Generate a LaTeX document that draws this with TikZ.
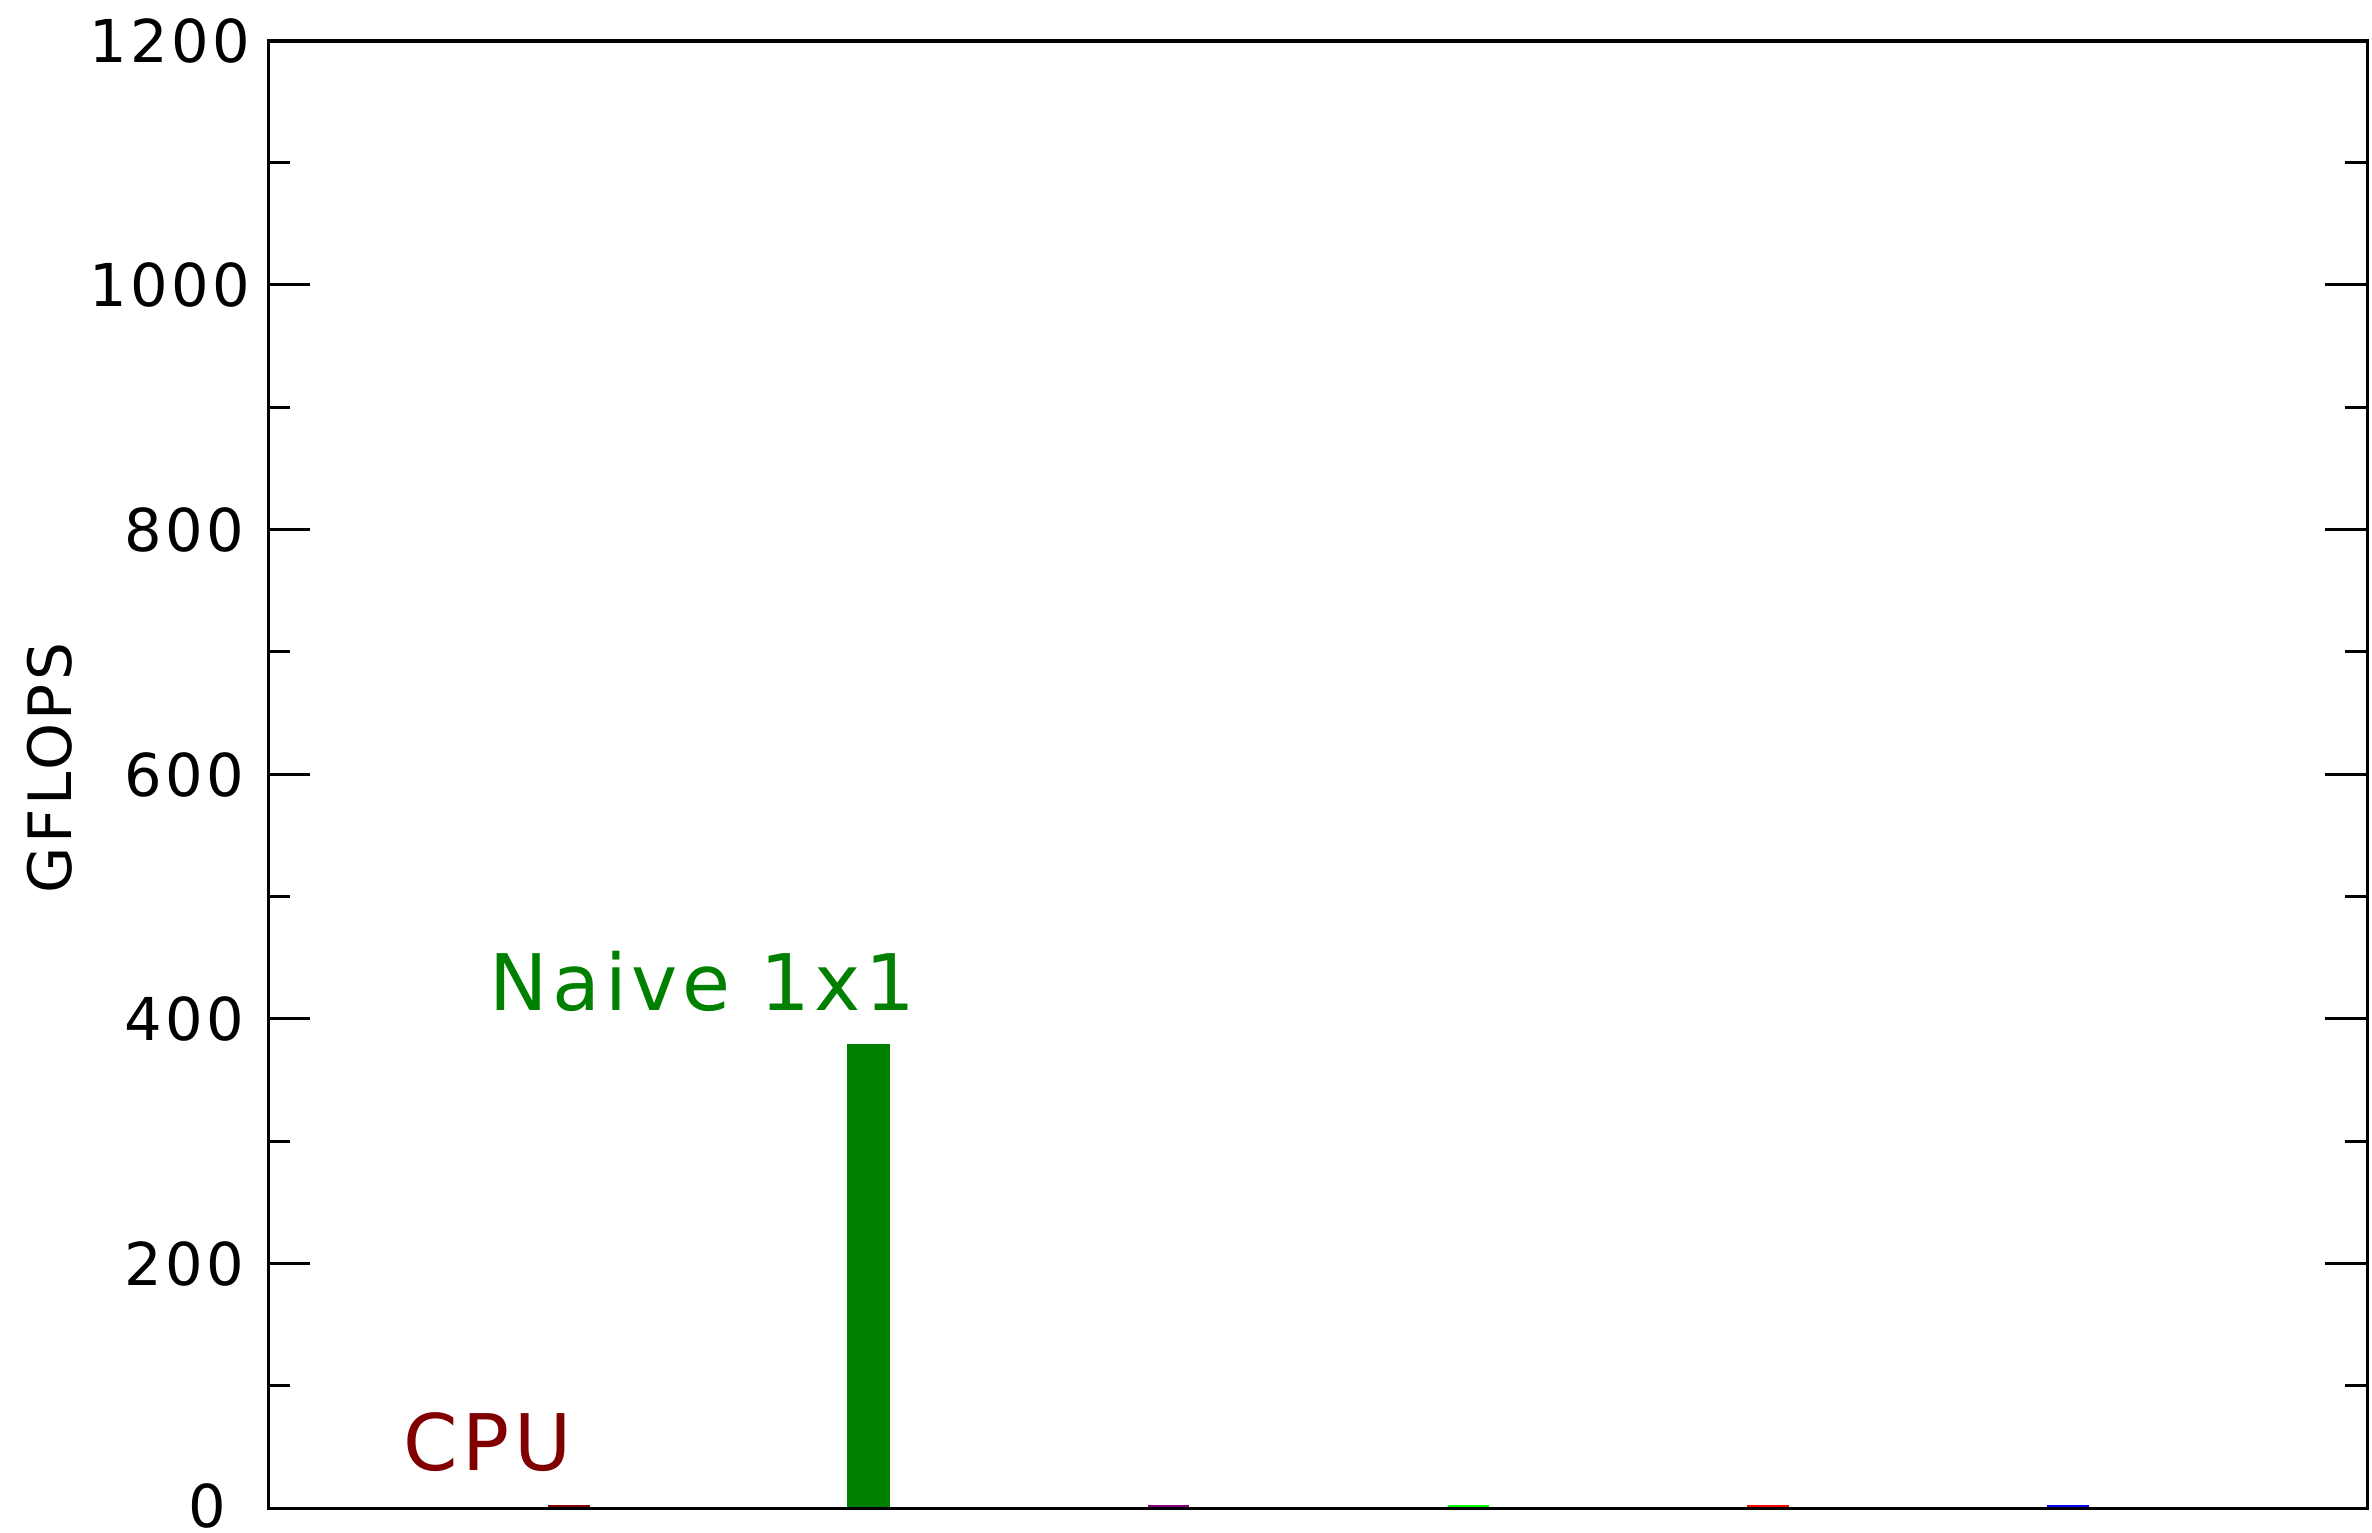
\documentclass[tikz,border=0pt]{standalone}
\usepackage{fontspec}
\newfontfamily\tickfont[LetterSpace=6]{DejaVu Sans}
\definecolor{cpured}{RGB}{128,0,0}
\definecolor{naivegreen}{RGB}{0,128,0}
\definecolor{barpurple}{RGB}{128,0,128}
\definecolor{barlime}{RGB}{0,255,0}
\definecolor{barred}{RGB}{255,0,0}
\definecolor{barblue}{RGB}{0,0,255}
\tikzset{
  ticklabel/.style={font=\tickfont\fontsize{16.8pt}{18pt}\selectfont, inner sep=0pt, anchor=base east},
  barlabel/.style={font=\tickfont\fontsize{22.2pt}{24pt}\selectfont, inner sep=0pt, anchor=base west},
  axisline/.style={line width=0.03cm, black},
}
\begin{document}
\begin{tikzpicture}[x=0.01cm,y=-0.01cm]
\useasboundingbox (0,0) rectangle (2372,1533);
\fill[white] (0,0) rectangle (2372,1533);
% bars
\fill[cpured] (548,1504.5) rectangle (590,1508);
\fill[naivegreen] (847,1044) rectangle (890,1508);
\fill[barpurple] (1148,1504.5) rectangle (1189,1508);
\fill[barlime] (1448,1504.5) rectangle (1489,1508);
\fill[barred] (1747,1504.5) rectangle (1789,1508);
\fill[barblue] (2047,1504.5) rectangle (2089,1508);
% ticks
\foreach \v in {100,300,...,1100}{
  \draw[axisline] (268,{1508-\v*1.2233}) -- ++(22,0);
  \draw[axisline] (2367,{1508-\v*1.2233}) -- ++(-22,0);
}
\foreach \v in {200,400,...,1000}{
  \draw[axisline] (268,{1508-\v*1.2233}) -- ++(42,0);
  \draw[axisline] (2367,{1508-\v*1.2233}) -- ++(-42,0);
}
% frame
\draw[axisline] (268,41) rectangle (2367,1508);
% tick labels
\node[ticklabel] (l0) at (227,1527) {0};
\foreach \v in {200,400,600,800}{
  \node[ticklabel] (l\v) at (245,{1508-\v*1.2233+22}) {\v};
}
\foreach \v in {1000,1200}{
  \node[ticklabel] (l\v) at (251,{1508-\v*1.2233+22}) {\v};
}
% axis title
\node[font=\tickfont\fontsize{17pt}{18pt}\selectfont, inner sep=0pt, anchor=base, rotate=90] (ytitle) at (71,768) {GFLOPS};
% bar labels
\node[barlabel, text=cpured] (cpu) at (403,1470) {CPU};
\node[barlabel, text=naivegreen] (naive) at (489,1010) {Naive 1x1};
\end{tikzpicture}
\end{document}
